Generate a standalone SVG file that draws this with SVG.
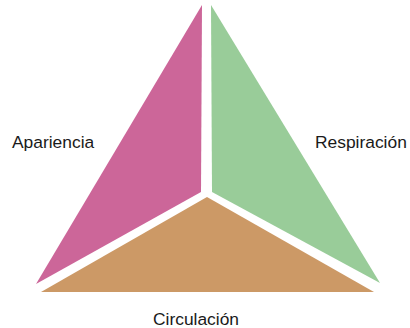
<svg xmlns="http://www.w3.org/2000/svg" width="410" height="328" viewBox="0 0 410 328">
<style>
.lbl{font-family:"Liberation Sans",Arial,sans-serif;font-size:17.4px;fill:#1a1a1a}
</style>
<rect width="410" height="328" fill="#ffffff"/>
<g id="apariencia">
<polygon points="202,5 201,192 36,284" fill="#CC6699"/>
<text class="lbl" x="12" y="147.5">Apariencia</text>
</g>
<g id="respiracion">
<polygon points="211,5 380,283 212,192" fill="#99CC99"/>
<text class="lbl" x="315" y="147.5">Respiración</text>
</g>
<g id="circulacion">
<polygon points="207,197 374,292 41,292" fill="#CC9966"/>
<text class="lbl" x="153" y="325">Circulación</text>
</g>
<g id="connectors"></g>
</svg>
